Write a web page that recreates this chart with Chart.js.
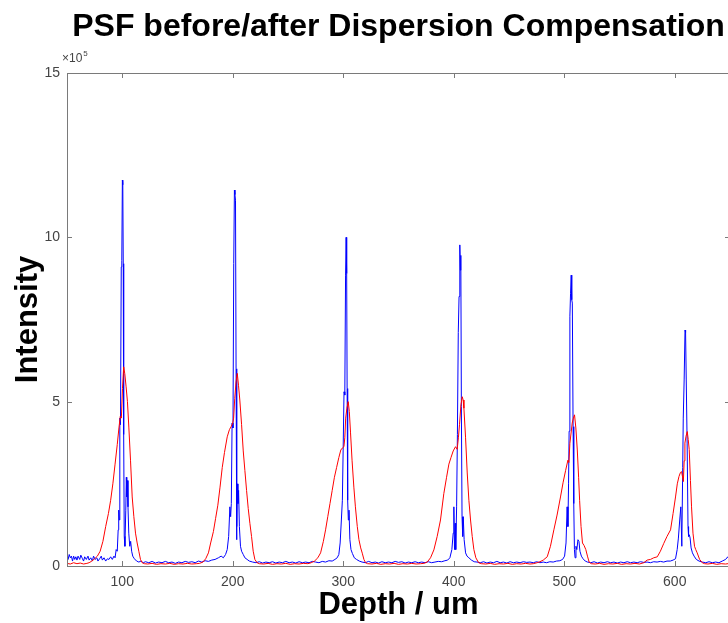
<!DOCTYPE html>
<html>
<head>
<meta charset="utf-8">
<script src="https://cdn.jsdelivr.net/npm/chart.js@4/dist/chart.umd.min.js"></script>
<style>
  html, body { margin: 0; padding: 0; background: #fff; overflow: hidden; width: 728px; height: 623px; }
  #wrap { width: 740px; height: 623px; }
</style>
</head>
<body>
<div id="wrap"><canvas id="c" width="740" height="623"></canvas></div>
<script>
// Intensity values are in units of 10^5 (axis exponent label "x10^5")
const xTicks = [100, 200, 300, 400, 500, 600];
const yTicks = [0, 5, 10, 15];
const xRange = [50, 650];
const yRange = [0, 15];

// After dispersion compensation (blue)
const blueDepth = [
  50,51,52,53,54,55,56,57,58,59,60,61.5,62.5,64,65,66,67.5,69,70,71.5,73,74,75.5,77,78,79.5,81,82,83.5,85,86.5,88,89.5,91,92.5,93.5,
  94.5,95.5,96.3,96.8,97.3,97.8,98.4,99.1,99.6,100.1,100.5,100.9,101.3,101.8,102.4,103.2,103.7,104.1,104.6,105.2,105.9,106.8,107.6,108.5,109.5,111,113,115,117,119,
  121,124,127,130,133,136,139,142,145,148,151,154,157,160,163,166,169,172,175,178,181,184,187,189.5,191.5,193.5,
  195,196.3,197.4,198.1,198.7,199.4,200.2,200.9,201.5,202,202.5,203,203.4,203.8,204.2,204.7,205.3,206,207,208,209.5,211,213,215,
  218,221,224,227,230,233,236,239,242,245,248,251,254,257,260,263,266,269,272,275,278,281,284,287,290,
  292.5,294.5,296,297.2,298.3,299.2,299.9,300.7,301.4,302.1,302.6,303.1,303.5,304,304.6,305.2,306,307,308.3,310,312,314.5,
  317,320,323,326,329,332,335,338,341,344,347,350,353,356,359,362,365,368,371,374,377,380,383,386,389,392,394.5,
  396.5,398.3,399.5,400.1,400.7,401.3,401.8,402.6,403.3,404.1,404.8,405.5,406,406.4,406.9,407.5,408.1,408.6,409.4,410.7,412,413.7,416,418.5,
  421,424,427,430,433,436,439,442,445,448,451,454,457,460,463,466,469,472,475,478,481,484,487,490,493,496,498.5,
  500.3,501.6,502.6,503.3,503.9,504.4,505.1,505.7,506.3,506.8,507.3,508,508.6,509.2,509.8,510.6,511.4,512.4,513.3,514.2,515.5,517,519,521,
  524,527,530,533,536,539,542,545,548,551,554,557,560,563,566,569,572,575,578,581,584,587,590,593,596,598.5,
  600.7,602.2,603.3,604.5,605.5,606.4,607.2,607.7,608.5,609.3,609.8,610.4,611.2,612,612.5,613.2,613.9,614.8,616,617.5,619.5,622,
  625,628,631,634,637,640,643,646,648,650
];
const blueIntensity = [
  0.3,0.2,0.35,0.25,0.3,0.15,0.3,0.2,0.28,0.18,0.3,0.2,0.33,0.22,0.15,0.28,0.2,0.3,0.18,0.25,0.15,0.3,0.2,0.25,0.15,0.22,0.3,0.18,0.25,0.15,0.22,0.2,0.28,0.2,0.3,0.25,
  0.5,0.45,1.1,1.7,1.4,4.5,4.3,9.1,9.3,11.74,11.6,9.2,4.0,0.9,0.6,1.7,2.7,2.1,2.6,1.8,1.0,0.6,0.75,0.45,0.3,0.22,0.15,0.12,0.15,0.1,
  0.13,0.1,0.14,0.09,0.12,0.1,0.14,0.1,0.12,0.08,0.12,0.1,0.14,0.11,0.13,0.1,0.15,0.12,0.16,0.14,0.18,0.2,0.25,0.3,0.25,0.35,
  0.5,0.9,1.8,1.5,1.9,4.35,4.2,9.2,11.44,11.3,11.13,6.0,0.8,1.2,2.5,1.9,2.3,1.2,0.6,0.45,0.35,0.25,0.2,0.15,
  0.12,0.1,0.13,0.09,0.12,0.1,0.13,0.09,0.12,0.1,0.14,0.1,0.12,0.09,0.13,0.1,0.12,0.1,0.14,0.12,0.1,0.14,0.12,0.16,0.15,
  0.2,0.25,0.35,0.7,1.4,2.0,3.5,5.3,5.2,8.85,10.0,8.9,5.4,2.0,1.4,1.7,0.8,0.5,0.38,0.25,0.2,0.15,
  0.12,0.1,0.14,0.1,0.12,0.09,0.13,0.1,0.12,0.1,0.14,0.11,0.13,0.09,0.12,0.1,0.13,0.1,0.12,0.1,0.13,0.1,0.12,0.14,0.13,0.16,0.18,
  0.25,0.5,1.0,1.8,0.5,1.3,0.5,1.8,4.0,7.1,8.2,9.77,9.0,9.45,4.85,1.5,0.9,1.5,0.8,0.4,0.3,0.25,0.18,0.13,
  0.12,0.1,0.13,0.09,0.12,0.1,0.14,0.1,0.12,0.09,0.13,0.1,0.12,0.1,0.13,0.11,0.12,0.1,0.13,0.1,0.12,0.1,0.13,0.12,0.15,0.16,0.2,
  0.3,0.7,1.8,1.2,2.5,4.1,7.6,8.3,8.85,8.1,8.0,4.24,1.9,0.5,0.25,0.6,0.5,0.8,0.75,0.45,0.3,0.22,0.15,0.12,
  0.1,0.13,0.09,0.12,0.1,0.13,0.1,0.12,0.09,0.12,0.1,0.13,0.1,0.12,0.1,0.13,0.11,0.12,0.1,0.13,0.12,0.14,0.12,0.15,0.15,0.18,
  0.22,0.5,0.85,1.4,1.8,0.6,3.0,4.5,5.66,7.18,7.1,5.66,3.74,1.2,0.9,0.95,0.85,0.55,0.4,0.3,0.2,0.15,
  0.12,0.1,0.13,0.1,0.12,0.1,0.15,0.2,0.28,0.15
];

// Before dispersion compensation (red)
const redDepth = [
  50,53,56,59,62,65,68,70,72.5,75,77.5,80,82.5,85,87.5,89.5,91.5,93.5,95.5,97,98.2,99.2,100.2,101.3,102.3,103.5,104.7,106,107.5,109,110.5,112,113.5,115,116.5,118,120,
  123,127,131,135,139,143,147,151,155,159,163,167,170,173,175.5,178,180,182.5,184.5,186.5,188.5,190.5,192.5,195,197,198.5,200,200.8,201.8,203,204.1,205.2,206.4,208,209.5,211,212.5,214,215.5,217,218.5,220,222,224,
  228,232,236,240,244,248,252,256,260,264,268,271,274,277,279.5,282,284,286,288,290,292,294,296,297.8,299.5,300.6,301.4,302.2,303.3,304.5,305.5,306.6,308,309.6,311,312.7,314.2,315.8,317.2,318.7,320.2,322,
  326,330,334,338,342,346,350,354,358,362,366,370,373,376,379,382,385,388,391,393.5,395.6,397.5,399.5,401.6,403.1,404.2,405.2,406.5,407.7,408.5,409.2,410.7,412.2,413.7,415.2,416.7,418.2,420,422.5,425,
  429,433,437,441,445,449,453,457,461,465,469,472,475.5,478,481,484.6,487.5,490.6,493.5,496.6,499,501.2,503.3,504.2,505.1,507.2,508.3,509.3,510.5,511.8,513,513.9,515.2,516.5,518,519.5,521,522.5,524.5,
  528,532,536,540,544,548,552,556,560,564,568,572,575,578,581,584.2,587,590.1,593,596.2,598.5,600.7,602.3,603.8,605.2,606.2,607.8,608.5,609.2,610.2,611.3,612.2,613.1,614.2,615.2,616.5,617.9,619,620.3,622.5,624.9,627,
  630,634,638,642,646,650
];
const redIntensity = [
  0.08,0.06,0.1,0.07,0.09,0.06,0.08,0.1,0.15,0.22,0.3,0.45,0.75,1.2,1.6,2.0,2.5,3.1,3.7,4.2,4.55,4.5,5.4,6.06,5.85,5.45,5.0,4.2,3.2,2.1,1.5,1.0,0.7,0.45,0.2,0.1,0.07,
  0.06,0.08,0.05,0.07,0.06,0.08,0.05,0.07,0.06,0.08,0.06,0.07,0.08,0.12,0.22,0.4,0.7,1.05,1.45,1.85,2.4,3.0,3.45,3.93,4.15,4.24,4.35,4.5,5.1,5.6,5.86,5.5,5.05,4.3,3.5,2.9,2.3,1.75,1.3,0.9,0.45,0.2,0.1,0.07,
  0.06,0.08,0.05,0.07,0.06,0.08,0.05,0.07,0.06,0.08,0.07,0.1,0.15,0.25,0.4,0.75,1.1,1.5,1.9,2.3,2.7,3.0,3.3,3.53,3.6,3.63,3.9,4.5,4.8,5.0,4.7,4.05,3.2,2.4,1.8,1.2,0.8,0.55,0.39,0.2,0.1,0.07,
  0.06,0.08,0.05,0.07,0.06,0.08,0.05,0.07,0.06,0.08,0.06,0.07,0.08,0.12,0.25,0.49,0.9,1.4,2.2,2.7,3.1,3.3,3.5,3.63,3.55,3.9,4.3,4.9,5.15,5.05,4.8,3.9,2.83,2.0,1.4,0.9,0.5,0.25,0.1,0.07,
  0.06,0.08,0.05,0.07,0.06,0.08,0.05,0.07,0.06,0.08,0.06,0.07,0.1,0.13,0.18,0.28,0.6,1.1,1.55,2.1,2.55,2.9,3.22,3.15,3.73,4.35,4.5,4.6,4.2,3.53,2.7,2.0,1.2,0.7,0.62,0.5,0.3,0.12,0.07,
  0.06,0.08,0.05,0.07,0.06,0.08,0.05,0.07,0.06,0.08,0.06,0.1,0.18,0.2,0.25,0.28,0.45,0.69,0.9,1.1,1.6,2.1,2.5,2.72,2.85,2.87,2.57,3.2,3.74,3.95,4.09,3.85,3.54,2.6,1.8,1.0,0.6,0.5,0.4,0.2,0.1,0.07,
  0.06,0.08,0.05,0.07,0.06,0.08
];

const titleText = 'PSF before/after Dispersion Compensation';
const xTitle = 'Depth / um';
const yTitle = 'Intensity';

if (blueDepth.length !== blueIntensity.length) console.error('blue length mismatch', blueDepth.length, blueIntensity.length);
if (redDepth.length !== redIntensity.length) console.error('red length mismatch', redDepth.length, redIntensity.length);

const FONT = '"Liberation Sans", Arial, Helvetica, sans-serif';
const AXIS_COLOR = '#7a7a7a';
const LABEL_COLOR = '#444444';

const toPoints = (xs, ys) => xs.map((x, i) => ({ x: x, y: ys[i] }));

const framePlugin = {
  id: 'matlabFrame',
  afterDatasetsDraw(chart) {
    const { ctx, chartArea: a, scales: { x, y } } = chart;
    ctx.save();
    ctx.strokeStyle = AXIS_COLOR;
    ctx.lineWidth = 1;
    ctx.strokeRect(Math.round(a.left) + 0.5, Math.round(a.top) + 0.5,
                   Math.round(a.right - a.left), Math.round(a.bottom - a.top));
    const L = 5;
    ctx.beginPath();
    x.ticks.forEach(t => {
      const px = Math.round(x.getPixelForValue(t.value)) + 0.5;
      ctx.moveTo(px, a.bottom); ctx.lineTo(px, a.bottom - L);
      ctx.moveTo(px, a.top); ctx.lineTo(px, a.top + L);
    });
    y.ticks.forEach(t => {
      const py = Math.round(y.getPixelForValue(t.value)) + 0.5;
      ctx.moveTo(a.left, py); ctx.lineTo(a.left + L, py);
      ctx.moveTo(a.right, py); ctx.lineTo(a.right - L, py);
    });
    ctx.stroke();
    // exponent label
    ctx.fillStyle = LABEL_COLOR;
    ctx.textBaseline = 'alphabetic';
    ctx.textAlign = 'left';
    ctx.font = '12px ' + FONT;
    const ex = a.left - 5, ey = a.top - 11;
    ctx.fillText('\u00d710', ex, ey);
    const w = ctx.measureText('\u00d710').width;
    ctx.font = '8px ' + FONT;
    ctx.fillText('5', ex + w + 1, ey - 6);
    ctx.restore();
  }
};

new Chart(document.getElementById('c'), {
  type: 'line',
  data: {
    datasets: [
      {
        label: 'before',
        data: toPoints(redDepth, redIntensity),
        borderColor: '#ff0000',
        borderWidth: 1,
        pointRadius: 0,
        tension: 0,
        fill: false
      },
      {
        label: 'after',
        data: toPoints(blueDepth, blueIntensity),
        borderColor: '#0000ff',
        borderWidth: 1,
        pointRadius: 0,
        tension: 0,
        fill: false
      }
    ]
  },
  options: {
    responsive: false,
    animation: false,
    devicePixelRatio: 1,
    layout: { padding: { left: 0, right: 10, top: 0, bottom: 0 } },
    plugins: {
      legend: { display: false },
      tooltip: { enabled: false },
      title: {
        display: true,
        text: titleText,
        fullSize: false,
        color: '#000',
        font: { family: FONT, size: 32, weight: 'bold', lineHeight: 1.2 },
        padding: { top: 8, bottom: 26.6 }
      }
    },
    scales: {
      x: {
        type: 'linear',
        min: xRange[0],
        max: xRange[1],
        afterBuildTicks: s => { s.ticks = xTicks.map(v => ({ value: v })); },
        afterFit: s => { s.height = 57; },
        grid: { display: false, drawTicks: false },
        border: { display: false },
        ticks: { color: LABEL_COLOR, font: { family: FONT, size: 14 }, padding: 8, autoSkip: false, maxRotation: 0 },
        title: { display: true, text: xTitle, color: '#000',
                 font: { family: FONT, size: 31, weight: 'bold', lineHeight: 1.1 },
                 padding: { top: 0, bottom: 0 } }
      },
      y: {
        type: 'linear',
        min: yRange[0],
        max: yRange[1],
        afterBuildTicks: s => { s.ticks = yTicks.map(v => ({ value: v })); },
        afterFit: s => { s.width = 67; },
        grid: { display: false, drawTicks: false },
        border: { display: false },
        ticks: { color: LABEL_COLOR, font: { family: FONT, size: 14 }, padding: 7 },
        title: { display: true, text: yTitle, color: '#000',
                 font: { family: FONT, size: 31, weight: 'bold', lineHeight: 1.2 },
                 padding: { top: 9.5, bottom: 0 } }
      }
    }
  },
  plugins: [framePlugin]
});
</script>
</body>
</html>
